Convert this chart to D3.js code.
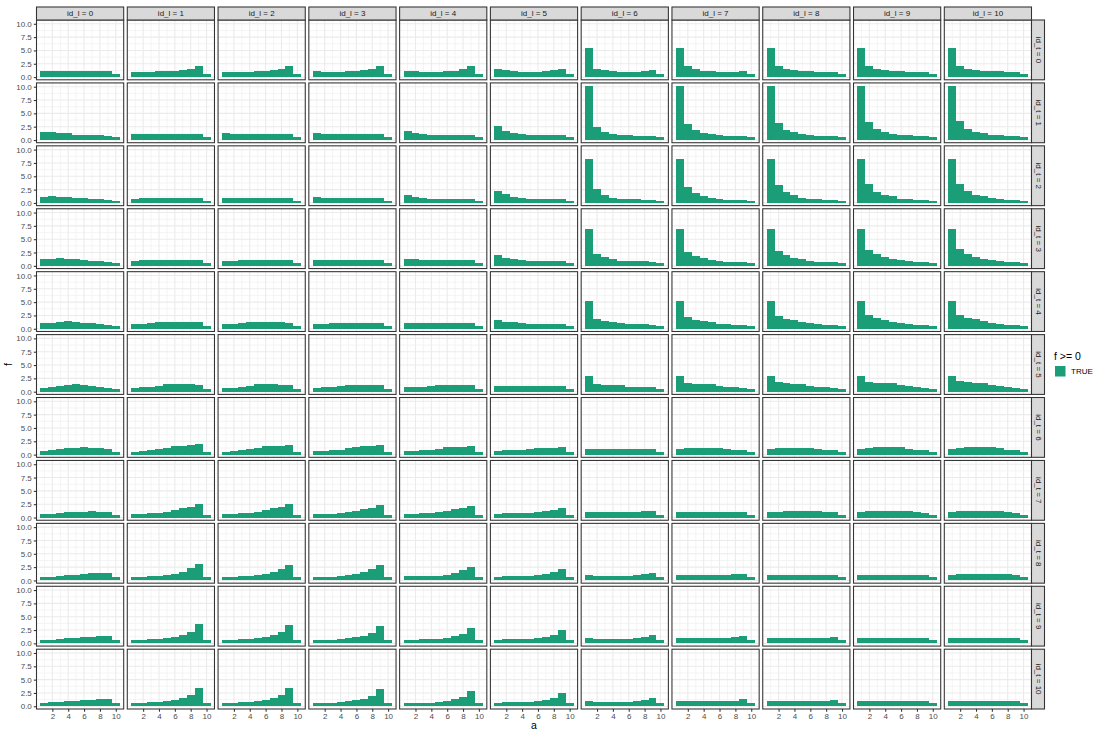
<!DOCTYPE html>
<html>
<head>
<meta charset="utf-8">
<script src="https://cdn.jsdelivr.net/npm/d3@7"></script>
<style>
    body { margin: 0; background: #fff; }
    svg { display: block; font-family: "Liberation Sans", Arial, sans-serif; }
</style>
</head>
<body>
<div id="chart"></div>
<script>
// Facet grid: f by a, columns id_l, rows id_t

const idL = [0, 1, 2, 3, 4, 5, 6, 7, 8, 9, 10];
const idT = [0, 1, 2, 3, 4, 5, 6, 7, 8, 9, 10];
const aValues = [1, 2, 3, 4, 5, 6, 7, 8, 9, 10];
const xTicks = [2, 4, 6, 8, 10];
const yTicks = [0, 2.5, 5, 7.5, 10];

// f values, one array per id_t row, inner arrays indexed by id_l (bars a = 1..10)
const f_t0 = [
    [1.05, 1.05, 1.05, 1.05, 1.05, 1.05, 1.05, 1.05, 1.05, 0.5],
    [0.87, 0.87, 0.87, 1.06, 1.06, 1.06, 1.24, 1.6, 2.17, 0.5],
    [0.87, 0.87, 0.87, 0.87, 1.06, 1.06, 1.24, 1.6, 2.17, 0.5],
    [1.06, 0.87, 0.87, 0.87, 1.06, 1.06, 1.24, 1.43, 2.17, 0.5],
    [1.06, 1.06, 0.87, 0.87, 0.87, 1.06, 1.06, 1.43, 1.99, 0.5],
    [1.6, 1.24, 1.06, 0.87, 0.87, 0.87, 1.06, 1.24, 1.6, 0.5],
    [5.53, 1.6, 1.24, 1.06, 0.87, 0.87, 0.87, 1.06, 1.24, 0.5],
    [5.53, 1.99, 1.43, 1.06, 1.06, 0.87, 0.87, 0.87, 1.06, 0.5],
    [5.53, 2.17, 1.43, 1.24, 1.06, 1.06, 0.87, 0.87, 0.87, 0.5],
    [5.53, 2.17, 1.6, 1.24, 1.06, 1.06, 0.87, 0.87, 0.87, 0.5],
    [5.53, 2.17, 1.6, 1.24, 1.06, 1.06, 1.06, 0.87, 0.87, 0.5]
];
const f_t1 = [
    [1.43, 1.43, 1.24, 1.24, 1.0, 1.0, 0.87, 0.87, 0.68, 0.5],
    [1.06, 1.06, 1.06, 1.06, 1.06, 1.06, 1.06, 1.06, 1.06, 0.5],
    [1.24, 1.06, 1.06, 1.06, 1.06, 1.06, 1.06, 1.06, 1.06, 0.5],
    [1.24, 1.06, 1.06, 1.06, 1.06, 1.06, 1.06, 1.06, 1.06, 0.5],
    [1.6, 1.24, 1.06, 0.87, 0.87, 0.87, 0.87, 0.87, 0.87, 0.5],
    [2.55, 1.6, 1.24, 1.06, 0.87, 0.87, 0.87, 0.87, 0.87, 0.5],
    [10.2, 2.36, 1.43, 1.06, 0.87, 0.87, 0.68, 0.68, 0.68, 0.5],
    [10.2, 2.92, 1.8, 1.24, 1.06, 0.87, 0.68, 0.68, 0.68, 0.5],
    [10.2, 3.1, 1.8, 1.43, 1.06, 0.87, 0.68, 0.68, 0.68, 0.5],
    [10.2, 3.29, 1.99, 1.43, 1.06, 0.87, 0.87, 0.68, 0.68, 0.5],
    [10.2, 3.48, 1.99, 1.43, 1.24, 0.87, 0.87, 0.68, 0.68, 0.5]
];
const f_t2 = [
    [1.18, 1.37, 1.18, 1.18, 1.0, 1.0, 0.81, 0.81, 0.62, 0.45],
    [0.81, 1.0, 1.0, 1.0, 1.0, 1.0, 1.0, 1.0, 1.0, 0.45],
    [1.0, 1.0, 1.0, 1.0, 1.0, 1.0, 1.0, 1.0, 1.0, 0.45],
    [1.18, 1.0, 1.0, 1.0, 1.0, 1.0, 1.0, 1.0, 1.0, 0.45],
    [1.43, 1.18, 1.0, 0.81, 0.81, 0.81, 0.81, 0.81, 0.81, 0.45],
    [2.17, 1.6, 1.18, 1.0, 0.81, 0.81, 0.81, 0.81, 0.81, 0.45],
    [8.3, 2.55, 1.43, 1.0, 0.81, 0.81, 0.81, 0.62, 0.62, 0.45],
    [8.3, 2.92, 1.8, 1.24, 1.0, 0.81, 0.62, 0.62, 0.62, 0.45],
    [8.3, 3.29, 1.99, 1.43, 1.0, 0.81, 0.81, 0.62, 0.62, 0.45],
    [8.3, 3.48, 1.99, 1.43, 1.24, 0.81, 0.81, 0.62, 0.62, 0.45],
    [8.3, 3.48, 2.17, 1.43, 1.24, 1.0, 0.81, 0.62, 0.62, 0.45]
];
const f_t3 = [
    [1.24, 1.24, 1.43, 1.24, 1.24, 1.06, 0.87, 0.87, 0.68, 0.45],
    [0.87, 1.06, 1.06, 1.06, 1.06, 1.06, 1.06, 1.06, 1.06, 0.45],
    [0.87, 0.87, 1.06, 1.06, 1.06, 1.06, 1.06, 1.06, 1.06, 0.45],
    [1.06, 1.06, 1.06, 1.06, 1.06, 1.06, 1.06, 1.06, 1.06, 0.45],
    [1.24, 1.24, 1.06, 1.06, 1.06, 1.06, 1.06, 1.06, 1.06, 0.45],
    [1.99, 1.43, 1.24, 1.06, 0.87, 0.87, 0.87, 0.87, 0.87, 0.45],
    [6.83, 2.17, 1.61, 1.24, 0.87, 0.87, 0.87, 0.87, 0.68, 0.45],
    [6.83, 2.55, 1.8, 1.43, 1.06, 0.87, 0.68, 0.68, 0.68, 0.45],
    [6.83, 2.73, 1.99, 1.43, 1.24, 0.87, 0.68, 0.68, 0.68, 0.45],
    [6.83, 2.92, 2.17, 1.61, 1.24, 1.06, 0.87, 0.68, 0.68, 0.45],
    [6.83, 3.1, 2.17, 1.61, 1.24, 1.06, 0.87, 0.68, 0.68, 0.45]
];
const f_t4 = [
    [1.06, 1.06, 1.24, 1.43, 1.24, 1.06, 1.06, 0.87, 0.68, 0.5],
    [0.87, 0.87, 1.06, 1.24, 1.24, 1.24, 1.24, 1.24, 1.24, 0.5],
    [0.87, 0.87, 1.06, 1.24, 1.24, 1.24, 1.24, 1.24, 1.06, 0.5],
    [0.87, 0.87, 1.06, 1.06, 1.06, 1.06, 1.06, 1.06, 1.06, 0.5],
    [1.06, 1.06, 1.06, 1.06, 1.06, 1.06, 1.06, 1.06, 1.06, 0.5],
    [1.6, 1.24, 1.24, 1.06, 0.87, 0.87, 0.87, 0.87, 0.87, 0.5],
    [5.16, 1.8, 1.43, 1.24, 1.06, 0.87, 0.87, 0.87, 0.68, 0.5],
    [5.16, 2.17, 1.6, 1.43, 1.24, 0.87, 0.87, 0.68, 0.68, 0.5],
    [5.16, 2.36, 1.8, 1.6, 1.24, 1.06, 0.87, 0.68, 0.68, 0.5],
    [5.16, 2.55, 1.99, 1.6, 1.24, 1.06, 0.87, 0.68, 0.68, 0.5],
    [5.16, 2.55, 1.99, 1.8, 1.43, 1.06, 0.87, 0.68, 0.68, 0.5]
];
const f_t5 = [
    [0.68, 0.87, 1.06, 1.24, 1.43, 1.24, 1.06, 0.87, 0.68, 0.5],
    [0.68, 0.87, 0.87, 1.06, 1.43, 1.43, 1.43, 1.43, 1.24, 0.5],
    [0.68, 0.68, 0.87, 1.06, 1.43, 1.43, 1.43, 1.24, 1.24, 0.5],
    [0.68, 0.87, 0.87, 1.06, 1.24, 1.24, 1.24, 1.24, 1.24, 0.5],
    [0.87, 0.87, 0.87, 1.06, 1.24, 1.24, 1.24, 1.24, 1.24, 0.5],
    [1.06, 1.06, 1.06, 1.06, 1.06, 1.06, 1.06, 1.06, 1.06, 0.5],
    [2.92, 1.43, 1.24, 1.24, 1.24, 0.87, 0.87, 0.87, 0.87, 0.5],
    [2.92, 1.6, 1.43, 1.43, 1.43, 1.06, 0.87, 0.87, 0.68, 0.5],
    [2.92, 1.8, 1.6, 1.43, 1.43, 1.06, 0.87, 0.87, 0.68, 0.5],
    [2.92, 1.8, 1.6, 1.6, 1.6, 1.24, 1.06, 0.87, 0.62, 0.45],
    [2.92, 1.99, 1.8, 1.6, 1.6, 1.24, 1.06, 0.87, 0.68, 0.5]
];
const f_t6 = [
    [0.62, 0.81, 1.0, 1.18, 1.18, 1.37, 1.18, 1.18, 1.0, 0.45],
    [0.45, 0.62, 0.81, 1.0, 1.18, 1.6, 1.6, 1.8, 1.99, 0.45],
    [0.45, 0.62, 0.81, 1.0, 1.18, 1.6, 1.6, 1.6, 1.8, 0.45],
    [0.62, 0.62, 0.81, 0.81, 1.18, 1.37, 1.6, 1.6, 1.8, 0.45],
    [0.62, 0.62, 0.81, 0.81, 1.0, 1.43, 1.43, 1.43, 1.6, 0.45],
    [0.62, 0.81, 0.81, 0.81, 1.0, 1.18, 1.18, 1.18, 1.43, 0.45],
    [1.0, 1.0, 1.0, 1.0, 1.0, 1.0, 1.0, 1.0, 1.0, 0.45],
    [1.0, 1.18, 1.18, 1.18, 1.18, 1.18, 1.0, 0.81, 0.81, 0.45],
    [1.0, 1.18, 1.18, 1.18, 1.18, 1.18, 1.0, 0.81, 0.81, 0.45],
    [1.0, 1.18, 1.37, 1.37, 1.37, 1.37, 1.0, 0.81, 0.81, 0.45],
    [1.0, 1.18, 1.37, 1.37, 1.37, 1.37, 1.18, 0.81, 0.81, 0.45]
];
const f_t7 = [
    [0.62, 0.62, 0.81, 1.0, 1.0, 1.0, 1.18, 1.0, 1.0, 0.45],
    [0.62, 0.62, 0.81, 0.81, 1.0, 1.43, 1.74, 1.93, 2.55, 0.45],
    [0.62, 0.62, 0.81, 0.81, 1.0, 1.43, 1.8, 1.99, 2.55, 0.45],
    [0.62, 0.62, 0.62, 0.81, 1.0, 1.24, 1.61, 1.8, 2.36, 0.45],
    [0.62, 0.62, 0.81, 0.81, 1.0, 1.24, 1.61, 1.8, 2.17, 0.45],
    [0.62, 0.81, 0.81, 0.81, 0.81, 1.0, 1.24, 1.43, 1.8, 0.45],
    [1.0, 1.0, 1.0, 1.0, 1.0, 1.0, 1.0, 1.24, 1.24, 0.45],
    [1.0, 1.0, 1.0, 1.0, 1.0, 1.0, 1.0, 1.0, 1.0, 0.45],
    [1.0, 1.0, 1.24, 1.24, 1.24, 1.24, 1.24, 1.0, 1.0, 0.45],
    [1.0, 1.24, 1.24, 1.24, 1.24, 1.24, 1.24, 1.0, 0.81, 0.45],
    [1.0, 1.24, 1.24, 1.24, 1.24, 1.24, 1.24, 1.0, 0.81, 0.45]
];
const f_t8 = [
    [0.68, 0.68, 0.87, 1.06, 1.06, 1.24, 1.43, 1.43, 1.43, 0.68],
    [0.68, 0.68, 0.87, 0.87, 1.06, 1.24, 1.6, 2.36, 3.1, 0.68],
    [0.68, 0.68, 0.87, 0.87, 1.06, 1.24, 1.6, 2.17, 2.92, 0.68],
    [0.68, 0.68, 0.68, 0.87, 1.06, 1.24, 1.6, 2.17, 2.92, 0.68],
    [0.8, 0.8, 0.8, 0.8, 0.8, 1.06, 1.43, 1.99, 2.55, 0.68],
    [0.68, 0.87, 0.87, 0.87, 0.87, 1.06, 1.24, 1.6, 2.17, 0.68],
    [1.06, 0.87, 0.87, 0.87, 0.87, 0.87, 1.06, 1.24, 1.43, 0.68],
    [1.06, 1.06, 1.06, 1.06, 1.06, 1.06, 1.06, 1.24, 1.24, 0.68],
    [1.06, 1.06, 1.06, 1.06, 1.06, 1.06, 1.06, 1.06, 1.06, 0.68],
    [1.06, 1.06, 1.06, 1.06, 1.06, 1.06, 1.06, 1.06, 1.06, 0.68],
    [1.06, 1.24, 1.24, 1.24, 1.24, 1.24, 1.24, 1.24, 1.06, 0.68]
];
const f_t9 = [
    [0.65, 0.65, 0.85, 1.03, 1.03, 1.22, 1.22, 1.4, 1.4, 0.65],
    [0.62, 0.62, 0.81, 0.81, 1.0, 1.19, 1.56, 2.12, 3.6, 0.62],
    [0.62, 0.62, 0.81, 0.81, 1.0, 1.19, 1.56, 2.12, 3.44, 0.62],
    [0.68, 0.68, 0.68, 0.87, 1.06, 1.24, 1.43, 1.99, 3.29, 0.68],
    [0.68, 0.68, 0.87, 0.87, 0.87, 1.06, 1.43, 1.8, 2.92, 0.68],
    [0.68, 0.87, 0.87, 0.87, 0.87, 1.06, 1.24, 1.6, 2.55, 0.68],
    [1.06, 0.81, 0.81, 0.81, 0.81, 0.81, 1.0, 1.19, 1.6, 0.62],
    [1.0, 1.0, 1.0, 1.0, 1.0, 1.0, 1.0, 1.19, 1.44, 0.62],
    [1.0, 1.0, 1.0, 1.0, 1.0, 1.0, 1.0, 1.0, 1.25, 0.62],
    [1.03, 1.03, 1.03, 1.03, 1.03, 1.03, 1.03, 1.03, 1.03, 0.65],
    [1.03, 1.03, 1.03, 1.03, 1.03, 1.03, 1.03, 1.03, 1.03, 0.65]
];
const f_t10 = [
    [0.62, 0.81, 0.81, 1.0, 1.0, 1.19, 1.19, 1.37, 1.37, 0.62],
    [0.62, 0.62, 0.81, 0.81, 1.0, 1.19, 1.56, 2.12, 3.44, 0.62],
    [0.62, 0.62, 0.81, 0.81, 1.0, 1.19, 1.56, 2.12, 3.44, 0.62],
    [0.68, 0.68, 0.68, 0.87, 1.06, 1.24, 1.43, 1.99, 3.2, 0.68],
    [0.68, 0.68, 0.68, 0.68, 0.87, 1.06, 1.43, 1.8, 2.92, 0.68],
    [0.68, 0.87, 0.87, 0.87, 0.87, 1.06, 1.24, 1.6, 2.55, 0.68],
    [1.06, 0.81, 0.81, 0.81, 0.81, 0.81, 1.0, 1.25, 1.62, 0.62],
    [1.0, 1.0, 1.0, 1.0, 1.0, 1.0, 1.0, 1.0, 1.44, 0.62],
    [1.0, 1.0, 1.0, 1.0, 1.0, 1.0, 1.0, 1.0, 1.25, 0.62],
    [1.0, 1.0, 1.0, 1.0, 1.0, 1.0, 1.0, 1.0, 1.0, 0.62],
    [1.0, 1.0, 1.0, 1.0, 1.0, 1.0, 1.0, 1.0, 1.0, 0.62]
];
const fRows = [f_t0, f_t1, f_t2, f_t3, f_t4, f_t5, f_t6, f_t7, f_t8, f_t9, f_t10];

const fill = '#1B9E77';
const width = 1096;
const height = 733;

const svg = d3.select('#chart')
    .append('svg')
    .attr('width', width)
    .attr('height', height);

svg.append('rect').attr('width', width).attr('height', height).attr('fill', '#fff');

// Panel layout
const colBand = d3.scaleBand()
    .domain(idL)
    .range([36.5, 1031.5])
    .paddingInner(0.0394);

const rowBand = d3.scaleBand()
    .domain(idT)
    .range([20, 709])
    .paddingInner(0.0496);

const pw = colBand.bandwidth();
const ph = rowBand.bandwidth();

// Shared scales (fixed facets), ggplot-style 5% expansion
const fMax = d3.max(fRows.flat(2));
const x = d3.scaleLinear().domain([0, 11]).range([0, pw]);
const y = d3.scaleLinear().domain([-0.05 * fMax, 1.05 * fMax]).range([ph, 0]);

const xMinor = [1, 3, 5, 7, 9];
const yMinor = [1.25, 3.75, 6.25, 8.75];

idT.forEach((t, ti) => {
    idL.forEach((l, li) => {
        const g = svg.append('g')
            .attr('transform', `translate(${colBand(l)},${rowBand(t)})`);

        g.append('rect')
            .attr('width', pw)
            .attr('height', ph)
            .attr('fill', '#fff');

        // Grid
        g.selectAll('.minor-y').data(yMinor).enter().append('line')
            .attr('x1', 0).attr('x2', pw)
            .attr('y1', d => y(d)).attr('y2', d => y(d))
            .attr('stroke', '#EBEBEB').attr('stroke-width', 0.55);
        g.selectAll('.minor-x').data(xMinor).enter().append('line')
            .attr('x1', d => x(d)).attr('x2', d => x(d))
            .attr('y1', 0).attr('y2', ph)
            .attr('stroke', '#EBEBEB').attr('stroke-width', 0.55);
        g.selectAll('.major-y').data(yTicks).enter().append('line')
            .attr('x1', 0).attr('x2', pw)
            .attr('y1', d => y(d)).attr('y2', d => y(d))
            .attr('stroke', '#EBEBEB').attr('stroke-width', 1.1);
        g.selectAll('.major-x').data(xTicks).enter().append('line')
            .attr('x1', d => x(d)).attr('x2', d => x(d))
            .attr('y1', 0).attr('y2', ph)
            .attr('stroke', '#EBEBEB').attr('stroke-width', 1.1);

        // Bars
        const vals = fRows[ti][li];
        g.selectAll('.bar')
            .data(aValues.map((a, i) => ({ a, f: vals[i] })))
            .enter()
            .append('rect')
            .attr('x', d => x(d.a - 0.5))
            .attr('width', d => x(d.a + 0.5) - x(d.a - 0.5))
            .attr('y', d => y(d.f))
            .attr('height', d => y(0) - y(d.f))
            .attr('fill', fill)
            .attr('shape-rendering', 'crispEdges');

        // Panel border
        g.append('rect')
            .attr('width', pw)
            .attr('height', ph)
            .attr('fill', 'none')
            .attr('stroke', '#333333')
            .attr('stroke-width', 1.07);

        // Y axis on the first column
        if (li === 0) {
            const ya = g.append('g')
                .call(d3.axisLeft(y).tickValues(yTicks).tickFormat(d3.format('.1f')).tickSize(2.7).tickPadding(2));
            ya.select('.domain').remove();
            ya.selectAll('line').attr('stroke', '#333333').attr('stroke-width', 1.07);
            ya.selectAll('text').attr('fill', '#4D4D4D').style('font-size', '8px')
                .style('font-family', '"Liberation Sans", Arial, sans-serif');
        }

        // X axis on the last row
        if (ti === idT.length - 1) {
            const xa = g.append('g')
                .attr('transform', `translate(0,${ph})`)
                .call(d3.axisBottom(x).tickValues(xTicks).tickFormat(d3.format('d')).tickSize(2.7).tickPadding(1.5));
            xa.select('.domain').remove();
            xa.selectAll('line').attr('stroke', '#333333').attr('stroke-width', 1.07);
            xa.selectAll('text').attr('fill', '#4D4D4D').style('font-size', '8px')
                .style('font-family', '"Liberation Sans", Arial, sans-serif');
        }
    });
});

// Top strips (id_l)
const topStrip = svg.selectAll('.strip-top')
    .data(idL)
    .enter()
    .append('g')
    .attr('transform', d => `translate(${colBand(d)},7)`);

topStrip.append('rect')
    .attr('width', pw)
    .attr('height', 13)
    .attr('fill', '#D9D9D9')
    .attr('stroke', '#333333')
    .attr('stroke-width', 1.07);

topStrip.append('text')
    .attr('x', pw / 2)
    .attr('y', 6.5)
    .attr('text-anchor', 'middle')
    .attr('dominant-baseline', 'central')
    .attr('fill', '#1A1A1A')
    .style('font-size', '8px')
    .text(d => `id_l = ${d}`);

// Right strips (id_t)
const rightStrip = svg.selectAll('.strip-right')
    .data(idT)
    .enter()
    .append('g')
    .attr('transform', d => `translate(1031.5,${rowBand(d)})`);

rightStrip.append('rect')
    .attr('width', 13)
    .attr('height', ph)
    .attr('fill', '#D9D9D9')
    .attr('stroke', '#333333')
    .attr('stroke-width', 1.07);

rightStrip.append('text')
    .attr('transform', `translate(6.5,${ph / 2}) rotate(90)`)
    .attr('text-anchor', 'middle')
    .attr('dominant-baseline', 'central')
    .attr('fill', '#1A1A1A')
    .style('font-size', '8px')
    .text(d => `id_t = ${d}`);

// Axis titles
svg.append('text')
    .attr('x', 534)
    .attr('y', 729)
    .attr('text-anchor', 'middle')
    .style('font-size', '10.5px')
    .attr('fill', '#000')
    .text('a');

svg.append('text')
    .attr('transform', 'translate(12,364.5) rotate(-90)')
    .attr('text-anchor', 'middle')
    .style('font-size', '10.5px')
    .attr('fill', '#000')
    .text('f');

// Legend
const legend = svg.append('g').attr('transform', 'translate(1054,352)');

legend.append('text')
    .attr('x', 0)
    .attr('y', 8)
    .style('font-size', '10.5px')
    .attr('fill', '#000')
    .text('f >= 0');

legend.append('rect')
    .attr('x', 1)
    .attr('y', 14)
    .attr('width', 10.5)
    .attr('height', 10.5)
    .attr('fill', fill);

legend.append('text')
    .attr('x', 17)
    .attr('y', 19.5)
    .attr('dominant-baseline', 'central')
    .style('font-size', '8px')
    .attr('fill', '#000')
    .text('TRUE');
</script>
</body>
</html>
